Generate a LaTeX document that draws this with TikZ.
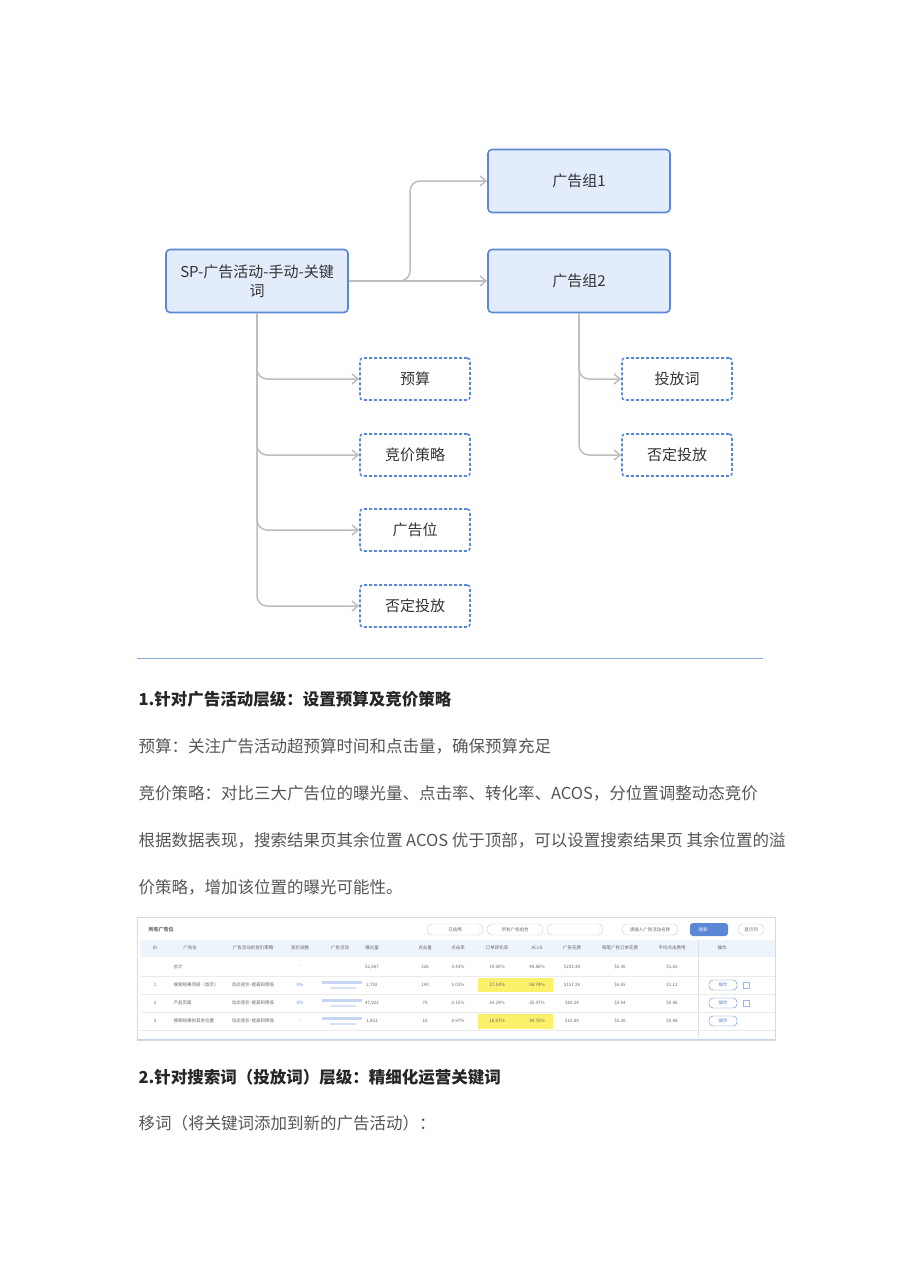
\documentclass[tikz,border=0pt]{standalone}
\usepackage{fontspec}
\setmainfont{Noto Sans CJK SC}
\usetikzlibrary{arrows.meta}
\definecolor{boxfill}{HTML}{E3ECFB}
\definecolor{boxline}{HTML}{5B87D6}
\definecolor{linkgray}{HTML}{BDBDBD}
\definecolor{bodytext}{HTML}{555555}
\definecolor{rulecol}{HTML}{8AA8D0}
\definecolor{hdrfill}{HTML}{EEF4FC}
\definecolor{hilite}{HTML}{FAF06A}
\begin{document}
\begin{tikzpicture}[x=1pt,y=-1pt,
        group/.style={draw=boxline, fill=boxfill, line width=1.6pt, rounded corners=4pt, minimum width=182pt, minimum height=63pt, font=\fontsize{15}{19}\selectfont, text=black!80, align=center},% solid box
        item/.style={draw=boxline, dashed, dash pattern=on 3pt off 2pt, line width=1.6pt, rounded corners=3pt, minimum width=110pt, minimum height=42pt, font=\fontsize{15}{19}\selectfont, text=black!80},% dashed box
        link/.style={draw=linkgray, line width=1.5pt, rounded corners=10pt, -{Straight Barb[length=6pt,width=10pt]}},% connector
        para/.style={anchor=west, font=\fontsize{16.5}{20}\selectfont, text=bodytext},% body line
        heading/.style={anchor=west, font=\fontsize{16.5}{20}\selectfont\bfseries, text=black!85},
        cell/.style={font=\fontsize{4.5}{5}\selectfont, text=black!60},% table cell
    ]
    \useasboundingbox (0,0) rectangle (900,1272);
    % diagram
    \node[group] (campaign) at (257,281) {SP-广告活动-手动-关键\\词};
    \node[group] (group1) at (579,181) {广告组1};
    \node[group] (group2) at (579,281) {广告组2};
    \node[item] (budget) at (415,379) {预算};
    \node[item] (bidding) at (415,455) {竞价策略};
    \node[item] (placement) at (415,530) {广告位};
    \node[item] (negative) at (415,606) {否定投放};
    \node[item] (keyword) at (677,379) {投放词};
    \node[item] (negative2) at (677,455) {否定投放};
    \draw[link] (campaign.east) -- (group2.west);
    \draw[link] (campaign.east) -| (410,220) |- (group1.west);
    \foreach \n in {budget,bidding,placement,negative}
        \draw[link] (campaign.south) |- (\n.west);
    \foreach \n in {keyword,negative2}
        \draw[link] (group2.south) |- (\n.west);
    % text part
    \draw[rulecol, line width=0.8pt] (137,658) -- (763,658);
    \node[heading] (h1) at (135,699) {1.针对广告活动层级：设置预算及竞价策略};
    \node[para] (p1) at (135,746) {预算：关注广告活动超预算时间和点击量，确保预算充足};
    \node[para] (p2) at (135,793) {竞价策略：对比三大广告位的曝光量、点击率、转化率、ACOS，分位置调整动态竞价};
    \node[para] (p3) at (135,840) {根据数据表现，搜索结果页其余位置 ACOS 优于顶部，可以设置搜索结果页 其余位置的溢};
    \node[para] (p4) at (135,887) {价策略，增加该位置的曝光可能性。};
    % table screenshot
    \draw[black!15, fill=white] (137,917) rectangle (775,1040);
    \fill[hdrfill] (140,940) rectangle (775,957);
    \draw[rulecol!50, line width=1pt] (137,1039) -- (775,1039);
    \foreach \y in {976,994,1012,1030} \draw[black!8] (140,\y) -- (775,\y);
    \draw[black!12] (698,940) -- (698,1038);
    \node[cell, anchor=west, font=\fontsize{5}{6}\selectfont\bfseries] (title) at (145,930) {所有广告位};
    \foreach \x/\t in {455/已启用,515/所有广告组合,575/,650/请输入广告活动名称}
        \draw[black!20, rounded corners=5pt] (\x-28,924) rectangle (\x+28,935) node[cell, midway] {\t};
    \draw[black!20, rounded corners=5pt] (738,924) rectangle (764,935) node[cell, midway] {显示列};
    \fill[boxline, rounded corners=3pt] (690,923) rectangle (728,936);
    \node[cell, text=white] (search) at (703,929.5) {搜索};
    \foreach \x/\t in {155/ID,190/广告位,253/广告活动的竞价策略,300/竞价调整,340/广告活动,372/曝光量,425/点击量,458/点击率,497/订单转化率,537/ACoS,572/广告花费,620/每笔广告订单花费,672/平均点击费用,722/操作}
        \node[cell] at (\x,948) {\t};
    \fill[hilite] (478,978) rectangle (553,992);
    \fill[hilite] (478,1014) rectangle (553,1029);
    \foreach \y/\id/\pos/\strat/\adj/\imp/\clk/\ctr/\cvr/\acos/\spend/\cpo/\cpc in {
        967/{}/总计/{}/-/{52,567}/226/0.43\%/19.30\%/40.88\%/\$233.39/\$5.30/\$1.02,
        985/1/搜索结果顶部（首页）/动态竞价-提高和降低/0\%/{2,792}/140/5.01\%/17.14\%/58.74\%/\$157.26/\$6.55/\$1.12,
        1003/2/产品页面/动态竞价-提高和降低/0\%/{47,922}/79/0.15\%/24.29\%/35.47\%/\$60.24/\$3.54/\$0.86,
        1021/3/搜索结果的其余位置/动态竞价-提高和降低/-/{1,853}/16/0.97\%/16.67\%/39.76\%/\$15.89/\$5.30/\$0.88}{
        \node[cell] at (155,\y) {\id};
        \node[cell, anchor=west] at (170,\y) {\pos};
        \node[cell] at (253,\y) {\strat};
        \node[cell, text=boxline] at (300,\y) {\adj};
        \node[cell] at (372,\y) {\imp};
        \node[cell] at (425,\y) {\clk};
        \node[cell] at (458,\y) {\ctr};
        \node[cell] at (497,\y) {\cvr};
        \node[cell] at (537,\y) {\acos};
        \node[cell] at (572,\y) {\spend};
        \node[cell] at (620,\y) {\cpo};
        \node[cell] at (672,\y) {\cpc};
    }
    \foreach \y in {985,1003,1021}{
        \fill[boxline!35] (322,\y-4) rectangle (362,\y-1.5);
        \fill[boxline!25] (330,\y+1.5) rectangle (356,\y+4);
        \draw[boxline, rounded corners=4pt] (709,\y-5) rectangle (737,\y+5) node[cell, midway, text=boxline] {操作};
    }
    \foreach \y in {985,1003} \draw[boxline!60] (743,\y-3) rectangle (749,\y+3);
    % second section
    \node[heading] (h2) at (135,1077) {2.针对搜索词（投放词）层级：精细化运营关键词};
    \node[para] (p5) at (135,1123) {移词（将关键词添加到新的广告活动）：};
\end{tikzpicture}
\end{document}
